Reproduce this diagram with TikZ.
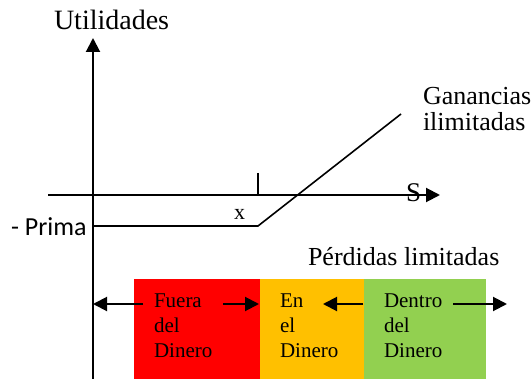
\documentclass[tikz,border=0pt]{standalone}
\usepackage{fontspec}
\setmainfont{Liberation Serif}
\newfontfamily\calibri{Carlito}
\usetikzlibrary{arrows.meta}
\definecolor{naranja}{HTML}{FFC000}
\definecolor{verde}{HTML}{92D050}

\begin{document}
\begin{tikzpicture}[x=1pt,y=-1pt,line width=2pt,
        flecha/.style={-{Triangle[length=14pt,width=14pt]}},
        caja/.style={anchor=north west,minimum width=#1,minimum height=101pt,inner sep=0pt},
        texto/.style={anchor=base west,inner sep=0pt,align=left}]
    \useasboundingbox (0,0) rectangle (532,379);
    % zonas de dinero
    \node[caja=126pt,fill=red]     (fuera)  at (133,278) {};
    \node[caja=104pt,fill=naranja] (en)     at (259,278) {};
    \node[caja=122pt,fill=verde]   (dentro) at (363,278) {};
    \node[texto,font=\fontsize{21}{25}\selectfont] (tfuera)  at (153,357) {Fuera\\del\\Dinero};
    \node[texto,font=\fontsize{21}{25}\selectfont] (ten)     at (279,357) {En\\el\\Dinero};
    \node[texto,font=\fontsize{21}{25}\selectfont] (tdentro) at (383,357) {Dentro\\del\\Dinero};
    % ejes
    \coordinate (ybot) at (93,379);
    \coordinate (ytop) at (93,38);
    \coordinate (xizq) at (48,195);
    \coordinate (xder) at (440,195);
    \draw[flecha] (ybot) -- (ytop);
    \draw[flecha] (xizq) -- (xder);
    \node[texto,font=\fontsize{28}{28}\selectfont] (util) at (53,30) {Utilidades};
    \node[texto,font=\fontsize{27}{27}\selectfont] (s) at (405,202) {S};
    % pago de la opcion
    \coordinate (prima) at (93,226);
    \coordinate (strike) at (258,226);
    \coordinate (fin) at (401,114);
    \coordinate (marca) at (258,173);
    \coordinate (marca0) at (258,195);
    \draw (marca) -- (marca0);
    \draw[line width=1.6pt] (prima) -- (strike) -- (fin);
    \node[texto,font=\calibri\fontsize{26}{26}\selectfont] (tprima) at (10,235) {- Prima};
    \node[texto,font=\fontsize{22}{22}\selectfont] (x) at (233,220) {x};
    \node[texto,font=\fontsize{26}{26}\selectfont] (gan) at (422,131) {Ganancias\\ilimitadas};
    \node[texto,font=\fontsize{26}{26}\selectfont] (perd) at (307,265) {Pérdidas limitadas};
    % flechas de las zonas
    \coordinate (a1) at (143,304);
    \coordinate (a1f) at (93,304);
    \coordinate (a2) at (223,304);
    \coordinate (a2f) at (259,304);
    \coordinate (a3) at (363,304);
    \coordinate (a3f) at (323,304);
    \coordinate (a4) at (453,304);
    \coordinate (a4f) at (507,304);
    \foreach \i in {1,...,4} \draw[flecha] (a\i) -- (a\i f);
\end{tikzpicture}
\end{document}
